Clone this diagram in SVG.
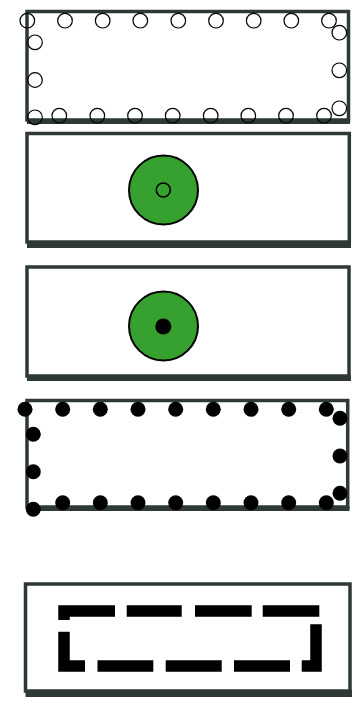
<svg xmlns="http://www.w3.org/2000/svg" width="361" height="707" viewBox="0 0 361 707">
<style>
.box{fill:#fff;stroke:#2e3934;stroke-width:3.5}
.shadow{fill:#2e3934}
.oc{fill:none;stroke:#000;stroke-width:1.2}
.fc{fill:#000}
.green{fill:#36a12e;stroke:#000;stroke-width:2}
.dash{fill:none;stroke:#000;stroke-width:11.5;stroke-linejoin:miter;stroke-linecap:butt}
</style>
<rect width="361" height="707" fill="#fff"/>
<g id="node1">
<rect class="box" x="27" y="11.5" width="321.5" height="108.5"/>
<rect class="shadow" x="27" y="119" width="323" height="5"/>
<g class="oc-set">
<circle class="oc" cx="27.3" cy="20.7" r="7.3"/><circle class="oc" cx="65" cy="20.7" r="7.3"/><circle class="oc" cx="102.7" cy="20.7" r="7.3"/><circle class="oc" cx="140.3" cy="20.7" r="7.3"/><circle class="oc" cx="178.3" cy="20.7" r="7.3"/><circle class="oc" cx="216" cy="20.7" r="7.3"/><circle class="oc" cx="253.7" cy="20.7" r="7.3"/><circle class="oc" cx="291.3" cy="20.7" r="7.3"/><circle class="oc" cx="329" cy="20.7" r="7.3"/>
<circle class="oc" cx="35" cy="42.3" r="7.3"/><circle class="oc" cx="35" cy="80" r="7.3"/><circle class="oc" cx="35" cy="117.3" r="7.3"/>
<circle class="oc" cx="59.3" cy="115.7" r="7.3"/><circle class="oc" cx="97.3" cy="115.7" r="7.3"/><circle class="oc" cx="135" cy="115.7" r="7.3"/><circle class="oc" cx="172.7" cy="115.7" r="7.3"/><circle class="oc" cx="210.7" cy="115.7" r="7.3"/><circle class="oc" cx="248.3" cy="115.7" r="7.3"/><circle class="oc" cx="286" cy="115.7" r="7.3"/><circle class="oc" cx="324" cy="115.7" r="7.3"/>
<circle class="oc" cx="339.3" cy="32.7" r="7.3"/><circle class="oc" cx="339.3" cy="70.3" r="7.3"/><circle class="oc" cx="339.3" cy="108.3" r="7.3"/>
</g>
</g>
<g id="node2">
<rect class="box" x="27" y="133.5" width="322.3" height="108.5"/>
<rect class="shadow" x="27" y="241" width="324" height="7"/>
<circle class="green" cx="163.5" cy="190" r="34.5"/>
<circle class="green" cx="163.3" cy="190" r="7" style="stroke-width:1.6"/>
</g>
<g id="node3">
<rect class="box" x="27" y="267" width="322" height="109"/>
<rect class="shadow" x="27" y="375" width="324" height="6"/>
<circle class="green" cx="163.5" cy="326" r="34.5"/>
<circle class="fc" cx="163.3" cy="326.5" r="8"/>
</g>
<g id="node4">
<rect class="box" x="27" y="400.5" width="320.7" height="106.5"/>
<rect class="shadow" x="27" y="506" width="322.5" height="5"/>
<circle class="fc" cx="25" cy="409.3" r="7.5"/><circle class="fc" cx="62.7" cy="409.3" r="7.5"/><circle class="fc" cx="100.3" cy="409.3" r="7.5"/><circle class="fc" cx="138" cy="409.3" r="7.5"/><circle class="fc" cx="175.7" cy="409.3" r="7.5"/><circle class="fc" cx="213.3" cy="409.3" r="7.5"/><circle class="fc" cx="251" cy="409.3" r="7.5"/><circle class="fc" cx="288.7" cy="409.3" r="7.5"/><circle class="fc" cx="326.3" cy="409.3" r="7.5"/>
<circle class="fc" cx="33.3" cy="434.3" r="7.5"/><circle class="fc" cx="33.3" cy="471.7" r="7.5"/><circle class="fc" cx="33.3" cy="509.3" r="7.5"/>
<circle class="fc" cx="62.7" cy="502.7" r="7.5"/><circle class="fc" cx="100.3" cy="502.7" r="7.5"/><circle class="fc" cx="138" cy="502.7" r="7.5"/><circle class="fc" cx="175.7" cy="502.7" r="7.5"/><circle class="fc" cx="213.3" cy="502.7" r="7.5"/><circle class="fc" cx="251" cy="502.7" r="7.5"/><circle class="fc" cx="288.7" cy="502.7" r="7.5"/><circle class="fc" cx="326.3" cy="502.7" r="7.5"/>
<circle class="fc" cx="340" cy="418.3" r="7.5"/><circle class="fc" cx="340" cy="456" r="7.5"/><circle class="fc" cx="340" cy="493.3" r="7.5"/>
</g>
<g id="node5">
<rect class="box" x="25.5" y="584" width="324.5" height="107"/>
<rect class="shadow" x="25.5" y="690" width="326.5" height="7"/>
<path class="dash" d="M64,620 V611 H115"/>
<path class="dash" d="M126.7,611 H181.7 M195,611 H251.7 M262.7,611 H319.3"/>
<path class="dash" d="M316,624.3 V666 H301.7"/>
<path class="dash" d="M290,666 H234 M221.7,666 H165.7 M153.3,666 H97.5"/>
<path class="dash" d="M85,666 H64 V631.7"/>
</g>
<g id="connectors"/>
</svg>
